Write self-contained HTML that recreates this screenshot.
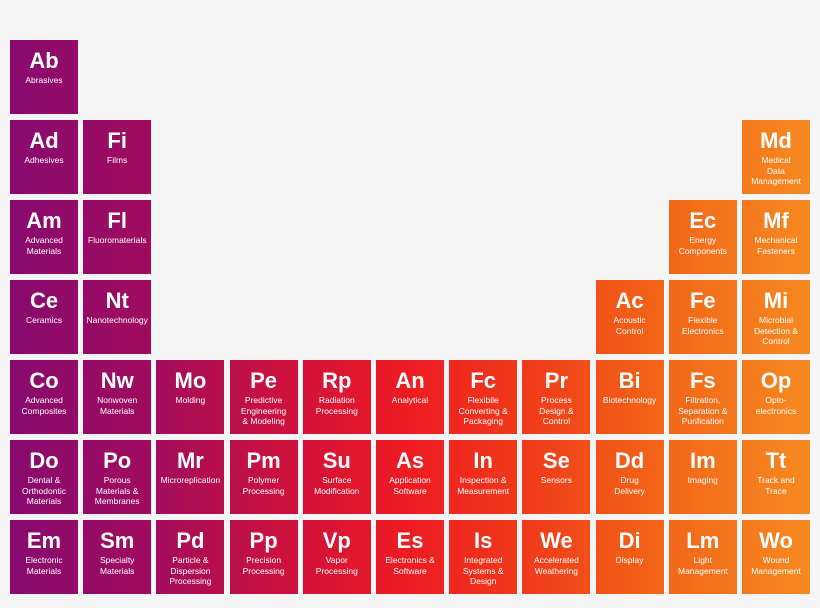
<!DOCTYPE html>
<html><head><meta charset="utf-8"><style>
body{margin:0;width:820px;height:608px;background:#f5f5f5;position:relative;overflow:hidden;font-family:"Liberation Sans",sans-serif}
.c{position:absolute;width:68px;height:74px;color:#fff;text-align:center;background:linear-gradient(90deg,#860a70 0px,#a00c5e 150px,#d2123a 300px,#ee1c22 410px,#f03c1a 530px,#f25f18 640px,#f68a20 810px);background-size:820px 74px}
.s{font-weight:bold;font-size:22px;margin-top:9px;line-height:24px}
.l{font-size:8.5px;line-height:10.5px;margin-top:2px;padding:0 2px}
</style></head><body>
<script>
const cells=[
["Ab","Abrasives",0,0],["Ad","Adhesives",0,1],["Fi","Films",1,1],["Md","Medical<br>Data<br>Management",10,1],
["Am","Advanced<br>Materials",0,2],["Fl","Fluoromaterials",1,2],["Ec","Energy<br>Components",9,2],["Mf","Mechanical<br>Fasteners",10,2],
["Ce","Ceramics",0,3],["Nt","Nanotechnology",1,3],["Ac","Acoustic<br>Control",8,3],["Fe","Flexible<br>Electronics",9,3],["Mi","Microbial<br>Detection &amp;<br>Control",10,3],
["Co","Advanced<br>Composites",0,4],["Nw","Nonwoven<br>Materials",1,4],["Mo","Molding",2,4],["Pe","Predictive<br>Engineering<br>&amp; Modeling",3,4],["Rp","Radiation<br>Processing",4,4],["An","Analytical",5,4],["Fc","Flexibile<br>Converting &amp;<br>Packaging",6,4],["Pr","Process<br>Design &amp;<br>Control",7,4],["Bi","Biotechnology",8,4],["Fs","Filtration,<br>Separation &amp;<br>Purification",9,4],["Op","Opto-<br>electronics",10,4],
["Do","Dental &amp;<br>Orthodontic<br>Materials",0,5],["Po","Porous<br>Materials &amp;<br>Membranes",1,5],["Mr","Microreplication",2,5],["Pm","Polymer<br>Processing",3,5],["Su","Surface<br>Modification",4,5],["As","Application<br>Software",5,5],["In","Inspection &amp;<br>Measurement",6,5],["Se","Sensors",7,5],["Dd","Drug<br>Delivery",8,5],["Im","Imaging",9,5],["Tt","Track and<br>Trace",10,5],
["Em","Electronic<br>Materials",0,6],["Sm","Specialty<br>Materials",1,6],["Pd","Particle &amp;<br>Dispersion<br>Processing",2,6],["Pp","Precision<br>Processing",3,6],["Vp","Vapor<br>Processing",4,6],["Es","Electronics &amp;<br>Software",5,6],["Is","Integrated<br>Systems &amp;<br>Design",6,6],["We","Accelerated<br>Weathering",7,6],["Di","Display",8,6],["Lm","Light<br>Management",9,6],["Wo","Wound<br>Management",10,6]];
for(const [s,l,c,r] of cells){
const x=10+c*73.2,y=40+r*80;
const d=document.createElement('div');
d.className='c';


d.style.left=x+'px';d.style.top=y+'px';
d.style.backgroundPosition=(-x)+'px 0';
d.innerHTML='<div class="s">'+s+'</div><div class="l">'+l+'</div>';
document.body.appendChild(d);
}
</script>
</body></html>
